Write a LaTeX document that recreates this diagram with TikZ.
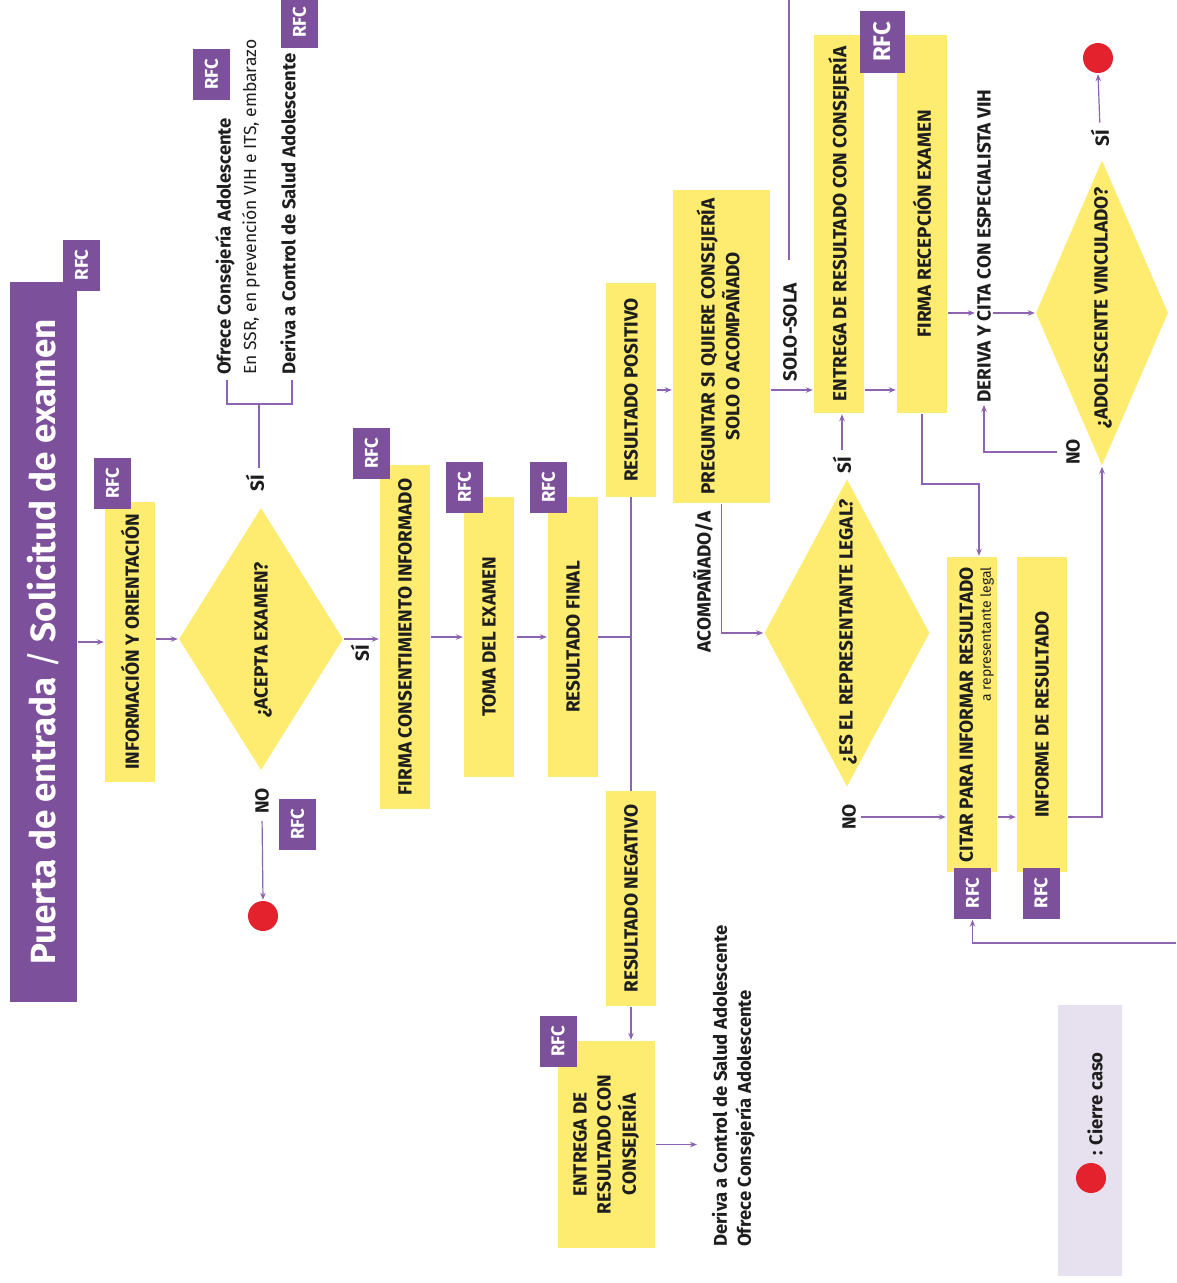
\documentclass[tikz,border=0pt]{standalone}
\usepackage{fontspec}
\setmainfont{Fira Sans}
\usetikzlibrary{shapes.geometric,arrows.meta}
\definecolor{pur}{RGB}{125,80,155}
\definecolor{yel}{RGB}{253,236,112}
\definecolor{redc}{RGB}{228,34,46}
\definecolor{lav}{RGB}{231,224,239}
\definecolor{linec}{RGB}{140,100,178}
\definecolor{txtc}{RGB}{30,30,30}
\newcommand\rotl[1]{\rotatebox{90}{#1}}
\newcommand\rotc[1]{\rotatebox{90}{\begin{tabular}{@{}c@{}}#1\end{tabular}}}
\newcommand\rotlft[1]{\rotatebox{90}{\begin{tabular}{@{}l@{}}#1\end{tabular}}}
\newcommand\rotrgt[1]{\rotatebox{90}{\begin{tabular}{@{}r@{}}#1\end{tabular}}}
\begin{document}
\begin{tikzpicture}[x=1pt,y=-1pt,
  box/.style={fill=yel,inner sep=0pt,text=txtc,font=\bfseries\fontsize{19}{24}\selectfont},
  rfc/.style={fill=pur,text=white,inner sep=0pt,minimum width=37,minimum height=51,font=\bfseries\fontsize{18.5}{20}\selectfont},
  dia/.style={diamond,fill=yel,inner sep=0pt,aspect=0.5},
  lab/.style={inner sep=1pt,text=txtc,font=\bfseries\fontsize{19}{24}\selectfont},
  lowb/.style={inner sep=1pt,text=txtc,font=\bfseries\fontsize{18.5}{24}\selectfont},
  lighttxt/.style={inner sep=1pt,text=txtc,font=\fontsize{17.5}{23}\selectfont},
  endc/.style={circle,fill=redc,minimum size=30,inner sep=0pt},
  ln/.style={draw=linec,line width=1.2pt},
  arr/.style={ln,-{Stealth[length=7pt,width=5.5pt]},shorten <=1pt,shorten >=1pt},
]
\useasboundingbox (0,0) rectangle (1177,1283);
\fill[white] (0,0) rectangle (1177,1283);

% ---------- title ----------
\node[fill=pur,minimum width=67,minimum height=720,inner sep=0pt,text=white,
      font=\bfseries\fontsize{35}{38}\selectfont] (title) at (43.5,642)
      {\rotl{Puerta de entrada {\mdseries/} Solicitud de examen}};
\node[rfc] (rfct) at (81.5,265) {\rotl{RFC}};

% ---------- boxes ----------
\node[box,minimum width=50,minimum height=280] (info) at (130,642) {\rotl{INFORMACIÓN Y ORIENTACIÓN}};
\node[rfc] (rfci) at (112.5,483.5) {\rotl{RFC}};

\node[dia,minimum width=164,minimum height=262] (d1) at (261,639) {};
\node[lab] (d1t) at (263,640) {\rotl{¿ACEPTA EXAMEN?}};

\node[lab] (si1) at (255,483) {\rotl{SÍ}};
\node[lab] (no1) at (262,801) {\rotl{NO}};
\node[rfc] (rfcno1) at (297.5,824.5) {\rotl{RFC}};
\node[endc] (end1) at (263,916) {};

\node[lowb,anchor=south] (of1) at (225,376) {\rotl{Ofrece Consejería Adolescente}};
\node[lighttxt,anchor=south] (of2) at (251,376) {\rotl{En SSR, en prevención VIH e ITS, embarazo}};
\node[lowb,anchor=south] (of3) at (288,376) {\rotl{Deriva a Control de Salud Adolescente}};
\node[rfc] (rfcof) at (211.5,74.5) {\rotl{RFC}};
\node[rfc] (rfcder) at (299.5,22.5) {\rotl{RFC}};
\coordinate (bj) at (259,404);
\coordinate (bl) at (227,380);
\coordinate (br) at (292,380);

\node[lab] (si1b) at (360,653) {\rotl{SÍ}};

\node[box,minimum width=50,minimum height=344] (fci) at (405,637) {\rotl{FIRMA CONSENTIMIENTO INFORMADO}};
\node[rfc] (rfcfci) at (371.5,453.5) {\rotl{RFC}};
\node[box,minimum width=50,minimum height=280] (toma) at (489,637) {\rotl{TOMA DEL EXAMEN}};
\node[rfc] (rfctoma) at (464.5,487.5) {\rotl{RFC}};
\node[box,minimum width=50,minimum height=280] (final) at (573,637) {\rotl{RESULTADO FINAL}};
\node[rfc] (rfcfinal) at (548.5,487.5) {\rotl{RFC}};

\node[box,minimum width=50,minimum height=214] (pos) at (631,390) {\rotl{RESULTADO POSITIVO}};
\node[box,minimum width=50,minimum height=215] (neg) at (631,898.5) {\rotl{RESULTADO NEGATIVO}};
\node[box,minimum width=97,minimum height=207] (ent1) at (606.5,1144.5) {\rotc{ENTREGA DE\\RESULTADO CON\\CONSEJERÍA}};
\node[rfc] (rfcent1) at (558,1041.5) {\rotl{RFC}};
\coordinate (ent1end) at (698,1144.5);
\node[lowb,anchor=south] (der2) at (734,1248)
  {\rotlft{Deriva a Control de Salud Adolescente\\Ofrece Consejería Adolescente}};

\node[box,minimum width=97,minimum height=313] (preg) at (721.5,346.5) {\rotc{PREGUNTAR SI QUIERE CONSEJERÍA\\SOLO O ACOMPAÑADO}};
\node[lab] (solo) at (790,332) {\rotl{SOLO-SOLA}};
\node[lab] (acomp) at (703,582) {\rotl{ACOMPAÑADO/A}};
\coordinate (topin) at (789,0);
\coordinate (topend) at (789,260);

\node[box,minimum width=50,minimum height=378] (ent2) at (839,224) {\rotl{ENTREGA DE RESULTADO CON CONSEJERÍA}};
\node[box,minimum width=50,minimum height=378] (frec) at (922,224) {\rotl{FIRMA RECEPCIÓN EXAMEN}};
\node[rfc,minimum width=45,minimum height=62,font=\bfseries\fontsize{24}{26}\selectfont] (rfcent2) at (882.5,42) {\rotl{RFC}};

\node[lab] (vih) at (984,246) {\rotl{DERIVA Y CITA CON ESPECIALISTA VIH}};

\node[dia,minimum width=132,minimum height=305] (d2) at (1102,313) {};
\node[lab] (d2t) at (1103,308) {\rotl{¿ADOLESCENTE VINCULADO?}};
\node[lab] (si2) at (1100,138) {\rotl{SÍ}};
\node[lab] (no2) at (1073,452) {\rotl{NO}};
\node[endc] (end2) at (1098,58) {};

\node[dia,minimum width=165,minimum height=307] (d3) at (847,633) {};
\node[lab] (d3t) at (848,632) {\rotl{¿ES EL REPRESENTANTE LEGAL?}};
\node[lab] (si3) at (842,465) {\rotl{SÍ}};
\node[lab] (no3) at (849,817) {\rotl{NO}};

\node[box,minimum width=50,minimum height=315] (citar) at (972,714.5) {};
\node[lab,anchor=north,inner sep=0pt] (citart) at (977,567)
  {\rotrgt{CITAR PARA INFORMAR RESULTADO\\[-6pt]{\mdseries\fontsize{14}{16}\selectfont a representante legal}}};
\node[rfc] (rfccitar) at (972.5,893) {\rotl{RFC}};
\node[box,minimum width=50,minimum height=315] (inf) at (1042,714.5) {\rotl{INFORME DE RESULTADO}};
\node[rfc] (rfcinf) at (1041,893) {\rotl{RFC}};
\coordinate (c1) at (979,484);
\coordinate (rin) at (1177,943);

% ---------- legend ----------
\node[fill=lav,minimum width=64,minimum height=271,inner sep=0pt] (leg) at (1090,1140.5) {};
\node[endc] (legc) at (1091,1178) {};
\node[lowb,anchor=south] (legt) at (1095,1157) {\rotl{: Cierre caso}};

% ---------- connectors ----------
\draw[arr] (title.east |- info.west) -- (info.west);
\draw[arr] (info.east |- d1.west) -- (d1.west);
\draw[ln,shorten <=6pt] (bj |- si1.north) -- (bj);
\draw[ln] (bl) |- (bj) -| (br);
\draw[arr,shorten <=6pt] (no1.south) -- (end1.north);
\draw[arr] (d1.east) -- (fci.west |- d1.east);
\draw[arr] (fci.east) -- (toma.west);
\draw[arr,shorten <=3pt] (toma.east) -- (final.west);
\draw[ln] (final.east) -- (pos.south |- final.east);
\draw[ln] (pos.south) -- (neg.north);
\draw[arr] (neg.south) -- (neg.south |- ent1.north);
\draw[arr] (ent1.east) -- (ent1end);
\draw[arr] (pos.east) -- (preg.west |- pos.east);
\draw[arr] (preg.east |- pos.east) -- (ent2.west |- pos.east);
\draw[ln] (topin) -- (topend);
\draw[arr] (ent2.east |- pos.east) -- (frec.west |- pos.east);
\draw[arr] (frec.east |- d2.west) -- (vih.west |- d2.west);
\draw[arr] (vih.east |- d2.west) -- (d2.west);
\draw[arr,shorten <=6pt] (si2.north) -- (end2.south);
\draw[arr,shorten <=8pt] (no2.west) -| (vih.south);
\draw[arr] (inf.east |- no3) -| (d2.south);
\draw[arr] (citar.east |- no3) -- (inf.west |- no3);
\draw[arr,shorten <=4pt] (no3.east) -- (citar.west |- no3);
\draw[arr] (preg.south) |- (d3.west);
\draw[arr,shorten <=6pt] (si3.north) -- (si3.north |- ent2.south);
\draw[arr] (frec.south) |- (c1) -- (c1 |- citar.north);
\draw[arr] (rin) -| (rfccitar.south);
\end{tikzpicture}
\end{document}
